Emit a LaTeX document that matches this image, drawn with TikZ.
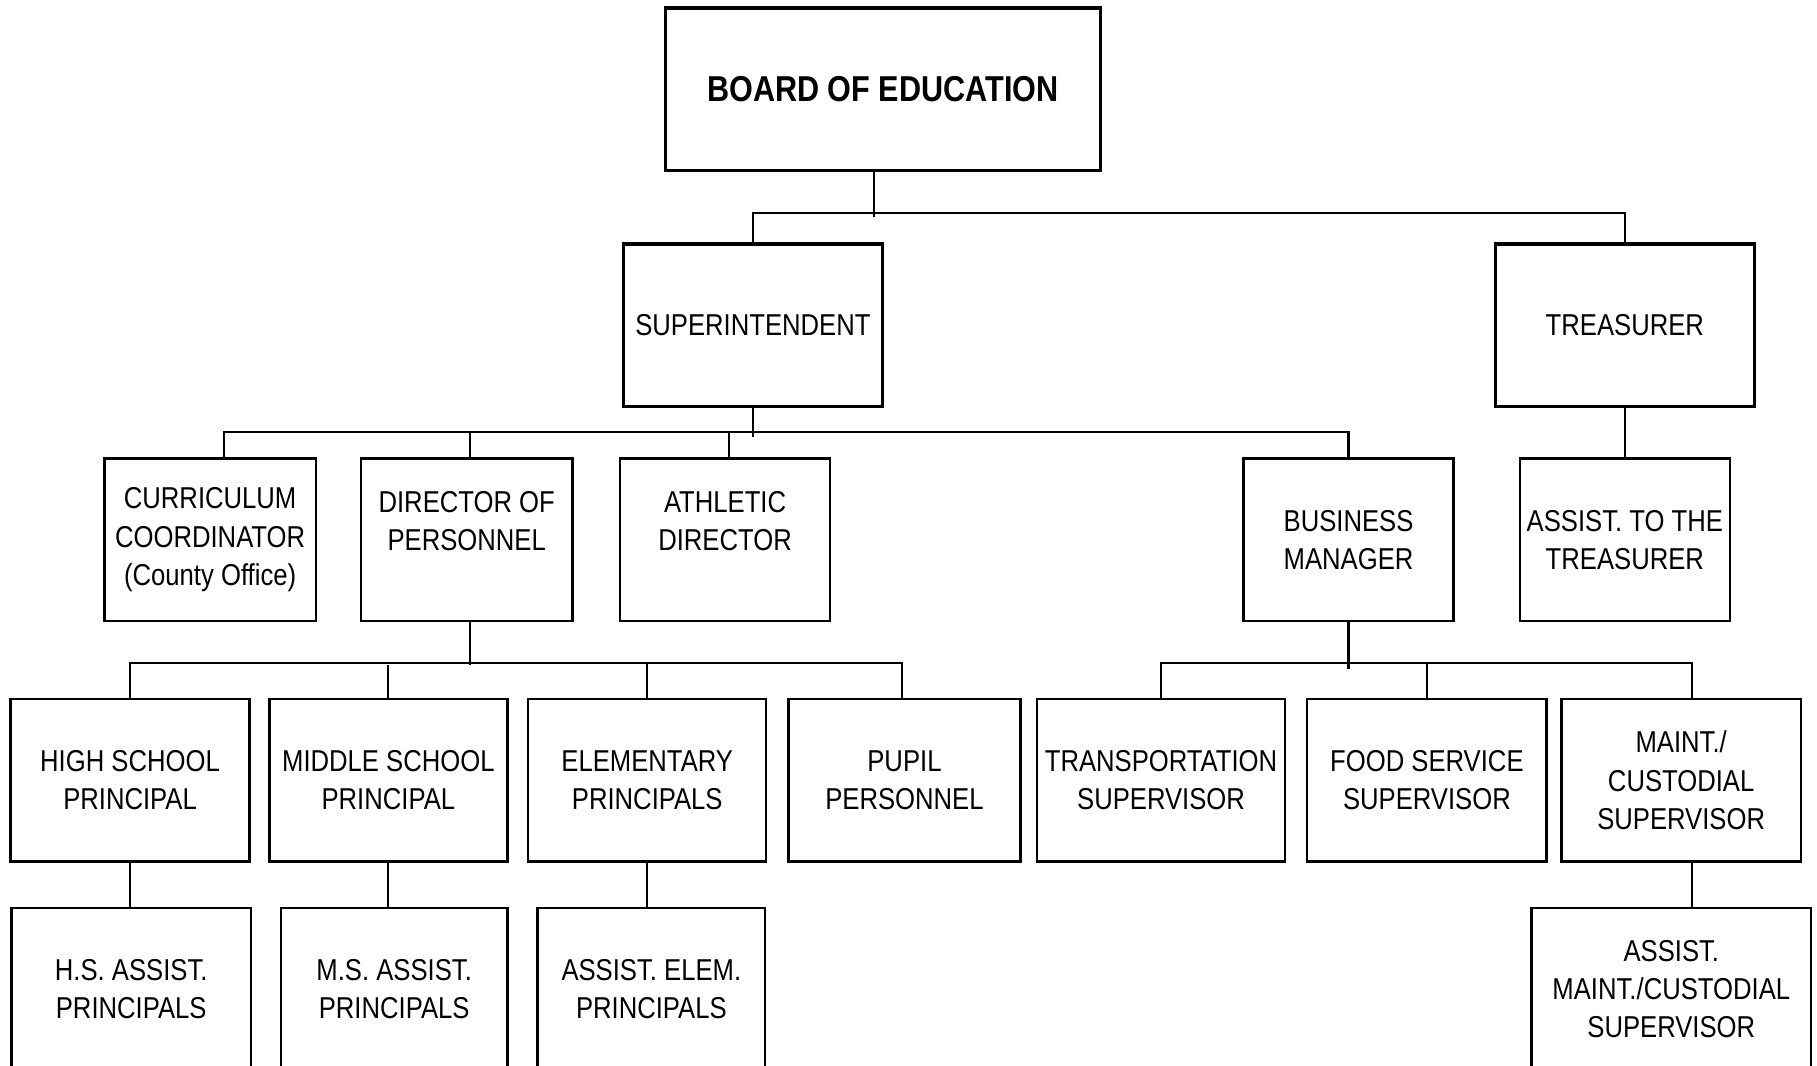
\documentclass[tikz,border=0pt]{standalone}
\usepackage{fontspec}
\setmainfont{Liberation Sans}[FakeStretch=0.85]
\usepackage{tikz}
\tikzset{
    orgnode/.style={draw, line width=1pt, minimum height=70pt, inner sep=0pt, align=center, font=\fontsize{13}{16.5}\selectfont},
    headnode/.style={orgnode, line width=1.5pt},
    topnode/.style={headnode, font=\fontsize{15.5}{18}\selectfont\bfseries},
    orgline/.style={line width=0.9pt}
}

\begin{document}
\begin{tikzpicture}[x=0.5pt, y=-0.5pt]
    \useasboundingbox (0,0) rectangle (1565,918);
    \node[topnode, minimum width=187.5pt] (board) at (760.5,77) {BOARD OF EDUCATION};
    \node[headnode, minimum width=111.5pt] (super) at (648.5,280) {SUPERINTENDENT};
    \node[headnode, minimum width=111.5pt] (treas) at (1399.5,280) {TREASURER};

    \node[orgnode, minimum width=91pt] (curric) at (181,465) {CURRICULUM\\COORDINATOR\\(County Office)};
    \node[orgnode, minimum width=91pt] (dirpers) at (402,465) {DIRECTOR OF\\PERSONNEL\\~};
    \node[orgnode, minimum width=90.5pt] (athdir) at (624.5,465) {ATHLETIC\\DIRECTOR\\~};
    \node[orgnode, minimum width=90.5pt] (busmgr) at (1161.5,465) {BUSINESS\\MANAGER};
    \node[orgnode, minimum width=90.5pt] (asstreas) at (1399.5,465) {ASSIST. TO THE\\TREASURER};

    \node[orgnode, minimum width=103pt] (hsprin) at (112,672) {HIGH SCHOOL\\PRINCIPAL};
    \node[orgnode, minimum width=102.5pt] (msprin) at (334.5,672) {MIDDLE SCHOOL\\PRINCIPAL};
    \node[orgnode, minimum width=102.5pt] (elprin) at (557.5,672) {ELEMENTARY\\PRINCIPALS};
    \node[orgnode, minimum width=100pt] (pupil) at (779,672) {PUPIL\\PERSONNEL};
    \node[orgnode, minimum width=107pt] (transp) at (1000,672) {TRANSPORTATION\\SUPERVISOR};
    \node[orgnode, minimum width=103pt] (food) at (1229,672) {FOOD SERVICE\\SUPERVISOR};
    \node[orgnode, minimum width=103pt] (maint) at (1448,672) {MAINT./\\CUSTODIAL\\SUPERVISOR};

    \node[orgnode, minimum width=103pt] (hsasst) at (113,852) {H.S. ASSIST.\\PRINCIPALS};
    \node[orgnode, minimum width=97.5pt] (msasst) at (339.5,852) {M.S. ASSIST.\\PRINCIPALS};
    \node[orgnode, minimum width=98pt] (elasst) at (561,852) {ASSIST. ELEM.\\PRINCIPALS};
    \node[orgnode, minimum width=120.5pt] (mtasst) at (1439.5,852) {ASSIST.\\MAINT./CUSTODIAL\\SUPERVISOR};

    \draw[orgline] ([xshift=-3.75pt]board.south) -- ++(0,38);
    \draw[orgline] (super.north) -- ++(0,-25) -| (treas.north);

    \draw[orgline] (super.south) -- ++(0,25);
    \draw[orgline] ([xshift=6pt]curric.north) -- ++(0,-22) -| (busmgr.north);
    \draw[orgline] ([xshift=1.5pt]dirpers.north) -- ++(0,-22);
    \draw[orgline] ([xshift=1.75pt]athdir.north) -- ++(0,-22);
    \draw[orgline] (treas.south) -- (asstreas.north);

    \draw[orgline] ([xshift=1.5pt]dirpers.south) -- ++(0,37);
    \draw[orgline] (hsprin.north) -- ++(0,-30) -| ([xshift=-1pt]pupil.north);
    \draw[orgline] (msprin.north) -- ++(0,-28);
    \draw[orgline] (elprin.north) -- ++(0,-30);
    \draw[orgline] (busmgr.south) -- ++(0,40);
    \draw[orgline] (transp.north) -- ++(0,-30) -| ([xshift=4.5pt]maint.north);
    \draw[orgline] (food.north) -- ++(0,-30);

    \draw[orgline] (hsprin.south) -- (hsprin.south |- hsasst.north);
    \draw[orgline] (msprin.south) -- (msprin.south |- msasst.north);
    \draw[orgline] (elprin.south) -- (elprin.south |- elasst.north);
    \draw[orgline] ([xshift=4.5pt]maint.south) -- ([xshift=4.5pt]maint.south |- mtasst.north);
\end{tikzpicture}
\end{document}
